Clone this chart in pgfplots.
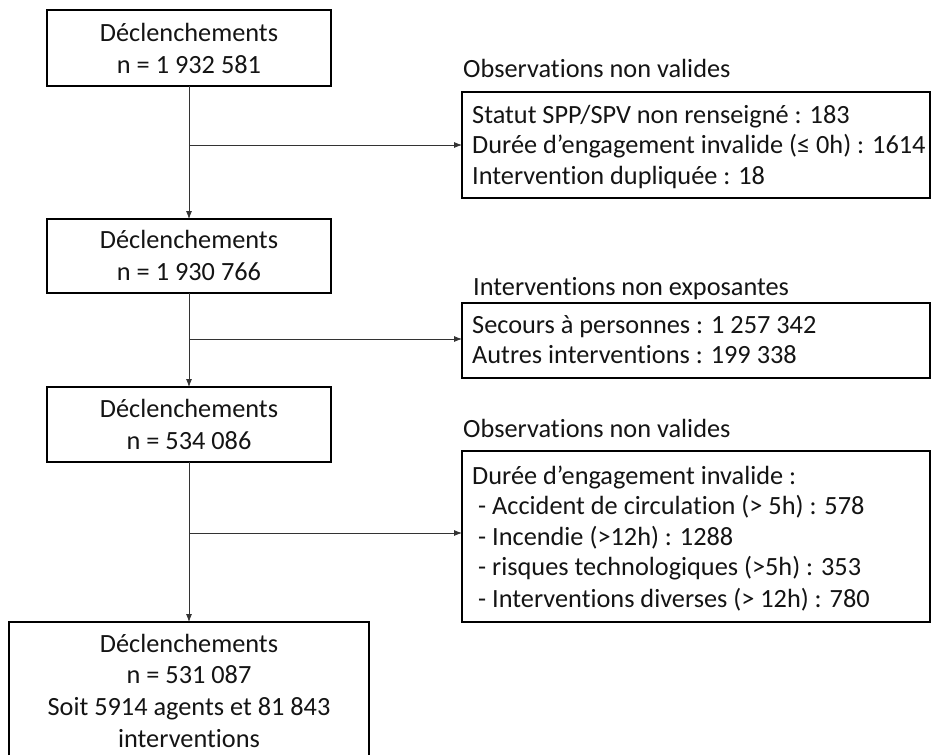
\documentclass[border=0pt]{standalone}
\usepackage{fontspec}
\setmainfont{Carlito}[Ligatures={NoCommon}]
\usepackage{pgfplots}
\pgfplotsset{compat=1.18}
\usetikzlibrary{arrows.meta}
\tikzset{t/.style={font=\fontsize{26.3}{31}\selectfont,inner sep=0pt,text=black!92}}
\begin{document}
\begin{tikzpicture}
\begin{axis}[x=1pt,y=1pt,xmin=0,xmax=931,ymin=0,ymax=755,y dir=reverse,
  hide axis,clip=false]
\path (axis cs:0,0) rectangle (axis cs:931,755);
% boxes (left column)
\draw[line width=1.4pt] (axis cs:47,10) rectangle (axis cs:331,86);
\draw[line width=1.4pt] (axis cs:47,219) rectangle (axis cs:331,293);
\draw[line width=1.4pt] (axis cs:47,387) rectangle (axis cs:331,462);
\draw[line width=1.4pt] (axis cs:9,755) -- (axis cs:9,622) -- (axis cs:369,622) -- (axis cs:369,755);
% boxes (right column)
\draw[line width=1.4pt] (axis cs:462,92) rectangle (axis cs:930,198);
\draw[line width=1.4pt] (axis cs:462,303) rectangle (axis cs:930,378);
\draw[line width=1.4pt] (axis cs:462,451) rectangle (axis cs:930,622);
% arrows
\draw[line width=0.8pt,black!80,-{Latex[length=8pt,width=6pt]}] (axis cs:189,86) -- (axis cs:189,219);
\draw[line width=0.8pt,black!80,-{Latex[length=8pt,width=6pt]}] (axis cs:189,293) -- (axis cs:189,387);
\draw[line width=0.8pt,black!80,-{Latex[length=8pt,width=6pt]}] (axis cs:189,462) -- (axis cs:189,622);
\draw[line width=0.8pt,black!80,-{Latex[length=8pt,width=6pt]}] (axis cs:189,145) -- (axis cs:462,145);
\draw[line width=0.8pt,black!80,-{Latex[length=8pt,width=6pt]}] (axis cs:189,339) -- (axis cs:462,339);
\draw[line width=0.8pt,black!80,-{Latex[length=8pt,width=6pt]}] (axis cs:189,533) -- (axis cs:462,533);
% left texts
\node[t,anchor=base] at (axis cs:189,41) {Déclenchements};
\node[t,anchor=base] at (axis cs:189,73) {n = 1 932 581};
\node[t,anchor=base] at (axis cs:189,248) {Déclenchements};
\node[t,anchor=base] at (axis cs:189,280) {n = 1 930 766};
\node[t,anchor=base] at (axis cs:189,417) {Déclenchements};
\node[t,anchor=base] at (axis cs:189,449) {n = 534 086};
\node[t,anchor=base] at (axis cs:189,652) {Déclenchements};
\node[t,anchor=base] at (axis cs:189,683) {n = 531 087};
\node[t,anchor=base] at (axis cs:189,715) {Soit 5914 agents et 81 843};
\node[t,anchor=base] at (axis cs:189,747) {interventions};
% right titles
\node[t,anchor=base west] at (axis cs:463,77) {Observations non valides};
\node[t,anchor=base west] at (axis cs:473,295) {Interventions non exposantes};
\node[t,anchor=base west] at (axis cs:463,437) {Observations non valides};
% right box texts
\node[t,anchor=base west] at (axis cs:472,123) {Statut SPP/SPV non renseigné : 183};
\node[t,anchor=base west] at (axis cs:472,153) {Durée d’engagement invalide (≤ 0h) : 1614};
\node[t,anchor=base west] at (axis cs:472,184) {Intervention dupliquée : 18};
\node[t,anchor=base west] at (axis cs:472,333) {Secours à personnes : 1 257 342};
\node[t,anchor=base west] at (axis cs:472,363) {Autres interventions : 199 338};
\node[t,anchor=base west] at (axis cs:472,484) {Durée d’engagement invalide :};
\node[t,anchor=base west] at (axis cs:478,514) {- Accident de circulation (> 5h) : 578};
\node[t,anchor=base west] at (axis cs:478,545) {- Incendie (>12h) : 1288};
\node[t,anchor=base west] at (axis cs:478,575) {- risques technologiques (>5h) : 353};
\node[t,anchor=base west] at (axis cs:478,607) {- Interventions diverses (> 12h) : 780};
\end{axis}
\end{tikzpicture}
\end{document}
